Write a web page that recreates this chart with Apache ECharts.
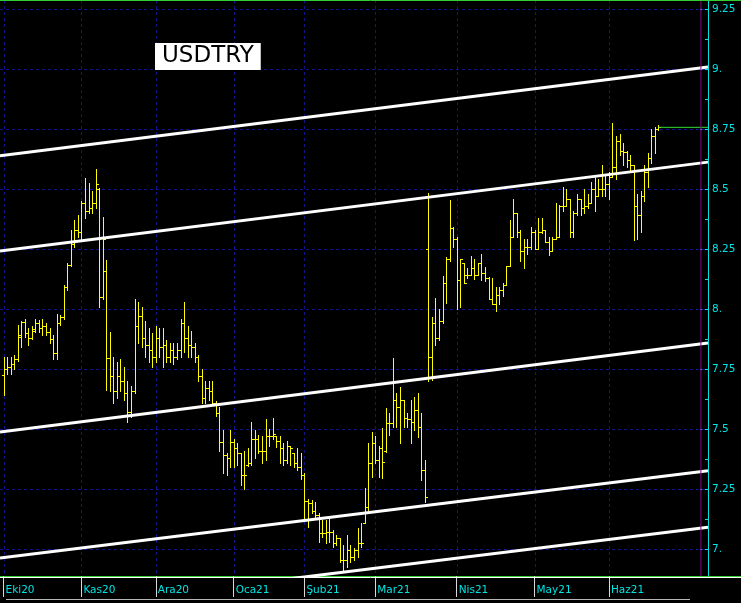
<!DOCTYPE html>
<html><head><meta charset="utf-8">
<script src="https://cdn.jsdelivr.net/npm/echarts@6/dist/echarts.min.js"></script>
<style>html,body{margin:0;padding:0;background:#000;}#c{width:741px;height:603px;}</style>
</head><body><div id="c"></div>
<script>
// ---- categories: trading days (weekdays, market holidays removed) ----
const holidays = ['2020-12-25', '2021-01-01'];
const firstDay = '2020-09-30';
const categoryCount = 201;
const dates = [];
(function () {
  const d = new Date(firstDay + 'T00:00:00Z');
  while (dates.length < categoryCount) {
    const wd = d.getUTCDay();
    const s = d.toISOString().slice(0, 10);
    if (wd !== 0 && wd !== 6 && holidays.indexOf(s) < 0) dates.push(s);
    d.setUTCDate(d.getUTCDate() + 1);
  }
})();

// ---- month labels ----
const monthKeys = ['2020-10','2020-11','2020-12','2021-01','2021-02','2021-03','2021-04','2021-05','2021-06'];
const monthLabels = ['Eki20','Kas20','Ara20','Oca21','Şub21','Mar21','Nis21','May21','Haz21'];

// ---- price axis ticks ----
const yTickValues = [7, 7.25, 7.5, 7.75, 8, 8.25, 8.5, 8.75, 9, 9.25];
const yTickLabels = ['7.', '7.25', '7.5', '7.75', '8.', '8.25', '8.5', '8.75', '9.', '9.25'];
const yMinorValues = [7.125, 7.375, 7.625, 7.875, 8.125, 8.375, 8.625, 8.875, 9.125];

// ---- daily OHLC, first bar = 2020-10-01 ----
const open = [
7.725,7.75,7.76,7.77,7.79,7.885,7.945,7.90,7.88,7.91,
7.94,7.92,7.93,7.905,7.875,7.815,7.94,7.965,8.09,8.185,
8.27,8.33,8.32,8.44,8.41,8.42,8.44,8.50,8.05,8.16,
7.795,7.72,7.66,7.72,7.70,7.65,7.57,7.66,7.93,7.97,
7.88,7.85,7.83,7.80,7.88,7.84,7.85,7.80,7.83,7.80,
7.83,7.94,7.88,7.85,7.84,7.80,7.72,7.63,7.67,7.66,
7.61,7.565,7.447,7.39,7.38,7.447,7.42,7.40,7.31,7.35,
7.36,7.46,7.46,7.41,7.41,7.47,7.47,7.47,7.45,7.42,
7.37,7.43,7.40,7.36,7.34,7.31,7.20,7.19,7.16,7.142,
7.065,7.065,7.072,7.072,7.024,7.044,6.954,6.954,6.996,6.968,
6.996,7.024,7.11,7.176,7.357,7.44,7.37,7.42,7.41,7.524,
7.524,7.62,7.593,7.62,7.544,7.54,7.53,7.58,7.51,7.329,
8.25,7.80,7.94,7.88,7.95,8.11,8.21,8.336,8.29,8.12,
8.19,8.14,8.14,8.17,8.14,8.19,8.15,8.13,8.04,8.02,
8.06,8.08,8.10,8.18,8.30,8.40,8.32,8.24,8.26,8.26,
8.32,8.25,8.32,8.33,8.28,8.24,8.29,8.30,8.43,8.43,
8.46,8.32,8.40,8.46,8.42,8.43,8.44,8.50,8.47,8.50,
8.50,8.52,8.55,8.59,8.70,8.66,8.655,8.62,8.60,8.43,
8.39,8.47,8.57,8.63,8.72,8.75];
const high = [
7.80,7.80,7.80,7.81,7.935,7.95,7.96,7.92,7.93,7.96,
7.955,7.96,7.94,7.92,7.89,7.98,7.975,8.10,8.19,8.33,
8.37,8.39,8.45,8.545,8.525,8.49,8.583,8.505,8.385,8.204,
7.905,7.80,7.78,7.79,7.76,7.70,7.68,8.04,8.03,8.01,
7.95,7.92,7.90,7.93,7.92,7.92,7.87,7.86,7.86,7.86,
7.96,8.03,7.93,7.91,7.86,7.81,7.75,7.70,7.70,7.70,
7.615,7.593,7.496,7.40,7.496,7.46,7.44,7.40,7.41,7.42,
7.53,7.496,7.475,7.47,7.54,7.50,7.545,7.47,7.47,7.44,
7.45,7.43,7.40,7.42,7.40,7.315,7.21,7.204,7.197,7.149,
7.12,7.12,7.135,7.079,7.058,7.044,7.017,7.058,7.017,7.003,
7.086,7.107,7.253,7.44,7.489,7.47,7.43,7.503,7.586,7.565,
7.794,7.648,7.676,7.62,7.565,7.62,7.634,7.648,7.565,7.37,
8.485,7.968,8.044,8.0,8.1375,8.218,8.454,8.343,8.30,8.21,
8.19,8.17,8.22,8.21,8.19,8.23,8.176,8.135,8.13,8.09,
8.09,8.11,8.18,8.37,8.46,8.40,8.33,8.29,8.29,8.34,
8.33,8.38,8.378,8.33,8.30,8.30,8.44,8.435,8.51,8.50,
8.46,8.41,8.48,8.46,8.50,8.48,8.53,8.56,8.54,8.60,
8.56,8.57,8.774,8.72,8.73,8.69,8.66,8.64,8.60,8.48,
8.49,8.60,8.65,8.75,8.76,8.765];
const low = [
7.64,7.73,7.73,7.75,7.785,7.84,7.885,7.85,7.875,7.905,
7.905,7.89,7.89,7.86,7.79,7.79,7.935,7.96,8.08,8.18,
8.26,8.30,8.29,8.38,8.40,8.40,8.42,8.01,8.04,7.6625,
7.66,7.61,7.63,7.66,7.62,7.53,7.55,7.65,7.86,7.84,
7.80,7.78,7.76,7.78,7.80,7.76,7.78,7.78,7.77,7.79,
7.80,7.82,7.80,7.80,7.78,7.70,7.61,7.61,7.62,7.60,
7.555,7.41,7.315,7.31,7.343,7.34,7.35,7.267,7.25,7.345,
7.35,7.38,7.40,7.36,7.37,7.43,7.46,7.426,7.36,7.35,
7.36,7.35,7.343,7.33,7.29,7.12,7.09,7.149,7.128,7.03,
7.05,7.024,7.03,7.01,7.017,6.947,6.906,6.926,6.947,6.954,
6.968,7.01,7.107,7.1625,7.30,7.36,7.30,7.294,7.406,7.475,
7.51,7.51,7.44,7.51,7.51,7.44,7.496,7.467,7.288,7.197,
7.70,7.704,7.85,7.87,7.94,8.024,8.20,8.26,8.00,8.01,
8.107,8.13,8.14,8.125,8.14,8.12,8.115,8.04,8.02,7.99,
8.02,8.055,8.10,8.18,8.30,8.30,8.20,8.17,8.23,8.25,
8.25,8.25,8.315,8.28,8.225,8.24,8.29,8.30,8.41,8.43,
8.30,8.30,8.39,8.39,8.40,8.42,8.44,8.41,8.47,8.47,
8.47,8.46,8.55,8.54,8.64,8.60,8.59,8.58,8.2875,8.29,
8.32,8.45,8.51,8.61,8.65,8.745];
const close = [
7.75,7.76,7.77,7.79,7.89,7.945,7.90,7.88,7.915,7.94,
7.92,7.93,7.905,7.875,7.815,7.94,7.965,8.09,8.185,8.27,
8.33,8.32,8.44,8.41,8.42,8.44,8.52,8.05,8.29,7.795,
7.72,7.66,7.72,7.70,7.65,7.57,7.66,7.93,7.97,7.88,
7.85,7.83,7.80,7.88,7.84,7.85,7.80,7.83,7.80,7.83,
7.94,7.88,7.85,7.84,7.80,7.72,7.63,7.67,7.66,7.61,
7.565,7.447,7.39,7.38,7.447,7.42,7.40,7.31,7.31,7.36,
7.46,7.46,7.41,7.41,7.47,7.47,7.48,7.45,7.42,7.37,
7.43,7.42,7.36,7.34,7.31,7.20,7.19,7.16,7.142,7.065,
7.065,7.072,7.072,7.024,7.044,6.954,6.954,6.996,6.968,6.996,
7.024,7.024,7.176,7.357,7.44,7.37,7.42,7.364,7.524,7.524,
7.62,7.593,7.62,7.544,7.54,7.53,7.58,7.51,7.329,7.218,
7.80,7.94,7.88,7.95,8.11,8.21,8.336,8.29,8.12,8.21,
8.11,8.14,8.17,8.14,8.19,8.15,8.13,8.04,8.02,8.06,
8.08,8.10,8.18,8.30,8.40,8.32,8.24,8.26,8.26,8.32,
8.25,8.32,8.33,8.28,8.24,8.29,8.30,8.43,8.43,8.46,
8.32,8.40,8.46,8.42,8.43,8.44,8.50,8.47,8.50,8.50,
8.52,8.55,8.59,8.70,8.66,8.655,8.62,8.60,8.43,8.39,
8.47,8.57,8.63,8.72,8.75,8.757];

// ---- parallel trend channel lines: value at first and last category ----
const trendStart = [8.639, 8.242, 7.4875, 6.9625, 6.727];
const trendEnd   = [9.008, 8.612, 7.858, 7.326, 7.091];
const cursorIndex = 198;

// ---------------------------------------------------------------
const Y_MIN = 6.8875, Y_MAX = 9.2875;
const firstBarIndex = dates.indexOf('2020-10-01');
const lastCatIndex = dates.length - 1;
const monthStartIdx = monthKeys.map(k => dates.findIndex(d => d.indexOf(k) === 0));
const isMonthStart = i => monthStartIdx.indexOf(i) >= 0;
const monthLabelAt = i => { const p = monthStartIdx.indexOf(i); return p >= 0 ? monthLabels[p] : ''; };
const yLabelOf = v => { for (let i = 0; i < yTickValues.length; i++) if (Math.abs(yTickValues[i] - v) < 1e-6) return yTickLabels[i]; return ''; };

const ohlcData = open.map((o, i) => [firstBarIndex + i, o, high[i], low[i], close[i]]);
const lastIdx = firstBarIndex + close.length - 1;
const lastClose = close[close.length - 1];

const CYAN = '#00e4e4';
const GRID_BLUE = '#12128a';
const FONT = 'DejaVu Sans';

const chart = echarts.init(document.getElementById('c'), null, {renderer: 'canvas'});
const series = [];
// vertical dashed month grid (pixel-snapped)
series.push({
  type: 'custom', z: 1, silent: true,
  encode: {x: 0},
  data: monthStartIdx.map(i => [i]),
  renderItem: function (params, api) {
    const cs = params.coordSys;
    const x = Math.round(api.coord([api.value(0), Y_MIN])[0]) + 0.5;
    return {type: 'line', shape: {x1: x, y1: cs.y, x2: x, y2: cs.y + cs.height},
      style: {stroke: GRID_BLUE, lineWidth: 1, lineDash: [3, 3]}};
  }
});
// horizontal dashed price grid (pixel-snapped)
series.push({
  type: 'custom', z: 1, silent: true,
  encode: {x: 0, y: 1},
  data: yTickValues.map(v => [0, v]),
  renderItem: function (params, api) {
    const cs = params.coordSys;
    const y = Math.round(api.coord([0, api.value(1)])[1]) + 0.5;
    return {type: 'line', shape: {x1: cs.x, y1: y, x2: cs.x + cs.width, y2: y},
      style: {stroke: GRID_BLUE, lineWidth: 1, lineDash: [3, 3]}};
  }
});
// OHLC bars
series.push({
  type: 'custom', z: 3, silent: true,
  encode: {x: 0, y: [1, 2, 3, 4]},
  data: ohlcData,
  renderItem: function (params, api) {
    const idx = api.value(0);
    const pO = api.coord([idx, api.value(1)]);
    const pH = api.coord([idx, api.value(2)]);
    const pL = api.coord([idx, api.value(3)]);
    const pC = api.coord([idx, api.value(4)]);
    const x = Math.round(pH[0]) + 0.5;
    const yO = Math.round(pO[1]) + 0.5, yC = Math.round(pC[1]) + 0.5;
    const st = {stroke: '#ffff00', lineWidth: 1};
    return {type: 'group', children: [
      {type: 'line', shape: {x1: x, y1: Math.round(pH[1]), x2: x, y2: Math.round(pL[1]) + 1}, style: st},
      {type: 'line', shape: {x1: x - 2.5, y1: yO, x2: x, y2: yO}, style: st},
      {type: 'line', shape: {x1: x, y1: yC, x2: x + 2.5, y2: yC}, style: st}
    ]};
  }
});
// trend channel
trendStart.forEach((v, i) => {
  series.push({
    type: 'line', z: 4, silent: true, symbol: 'none', clip: true, animation: false,
    lineStyle: {color: '#ffffff', width: 3},
    data: [[0, v], [lastCatIndex, trendEnd[i]]]
  });
});
// last price line
series.push({
  type: 'line', z: 5, silent: true, symbol: 'none', animation: false,
  lineStyle: {color: '#33dd33', width: 1},
  data: [[lastIdx, lastClose], [lastCatIndex, lastClose]]
});
// cursor vertical line
series.push({
  type: 'line', z: 5, silent: true, symbol: 'none', animation: false,
  lineStyle: {color: '#7a0a7a', width: 1},
  data: [[cursorIndex, Y_MIN], [cursorIndex, Y_MAX]]
});

chart.setOption({
  animation: false,
  backgroundColor: '#000000',
  title: {
    text: 'USDTRY', left: 155, top: 43, backgroundColor: '#ffffff',
    padding: [2, 7, 2, 7],
    textStyle: {color: '#000000', fontSize: 23, fontWeight: 'normal', fontFamily: FONT, lineHeight: 23}
  },
  grid: {left: 0, right: 33, top: 0, bottom: 27, containLabel: false},
  xAxis: {
    type: 'category', data: dates, boundaryGap: false,
    axisLine: {show: true, lineStyle: {color: '#33cc33', width: 1}},
    axisTick: {show: true, interval: i => isMonthStart(i), length: 21, lineStyle: {color: '#d8d8d8'}},
    axisLabel: {
      show: true, interval: i => isMonthStart(i), formatter: (v, i) => monthLabelAt(i),
      color: CYAN, fontFamily: FONT, fontSize: 10.5, align: 'left', margin: 9, padding: [0, 0, 0, 2]
    },
    splitLine: {show: false}
  },
  yAxis: [
    {
      type: 'value', position: 'right', min: Y_MIN, max: Y_MAX,
      axisLine: {show: true, lineStyle: {color: CYAN, width: 1}},
      axisTick: {show: true, inside: true, length: 8, customValues: yTickValues, lineStyle: {color: CYAN}},
      axisLabel: {show: true, inside: false, customValues: yTickValues, formatter: v => yLabelOf(v),
        color: CYAN, fontFamily: FONT, fontSize: 10.5, margin: 4},
      splitLine: {show: false}
    },
    {
      type: 'value', position: 'right', min: Y_MIN, max: Y_MAX,
      axisLine: {show: false},
      axisTick: {show: true, inside: true, length: 3, customValues: yMinorValues, lineStyle: {color: CYAN}},
      axisLabel: {show: false},
      splitLine: {show: false}
    }
  ],
  graphic: [
    {type: 'line', z: 100, shape: {x1: 0, y1: 0.5, x2: 741, y2: 0.5}, style: {stroke: '#33cc33', lineWidth: 1}},
    {type: 'line', z: 100, shape: {x1: 708, y1: 576.5, x2: 741, y2: 576.5}, style: {stroke: '#33cc33', lineWidth: 1}},
    {type: 'line', z: 100, shape: {x1: 0, y1: 577.5, x2: 741, y2: 577.5}, style: {stroke: '#ffffff', lineWidth: 1}},
    {type: 'line', z: 100, shape: {x1: 6, y1: 599.5, x2: 690, y2: 599.5}, style: {stroke: '#b8b8b8', lineWidth: 1}}
  ],
  series: series
});
</script></body></html>
